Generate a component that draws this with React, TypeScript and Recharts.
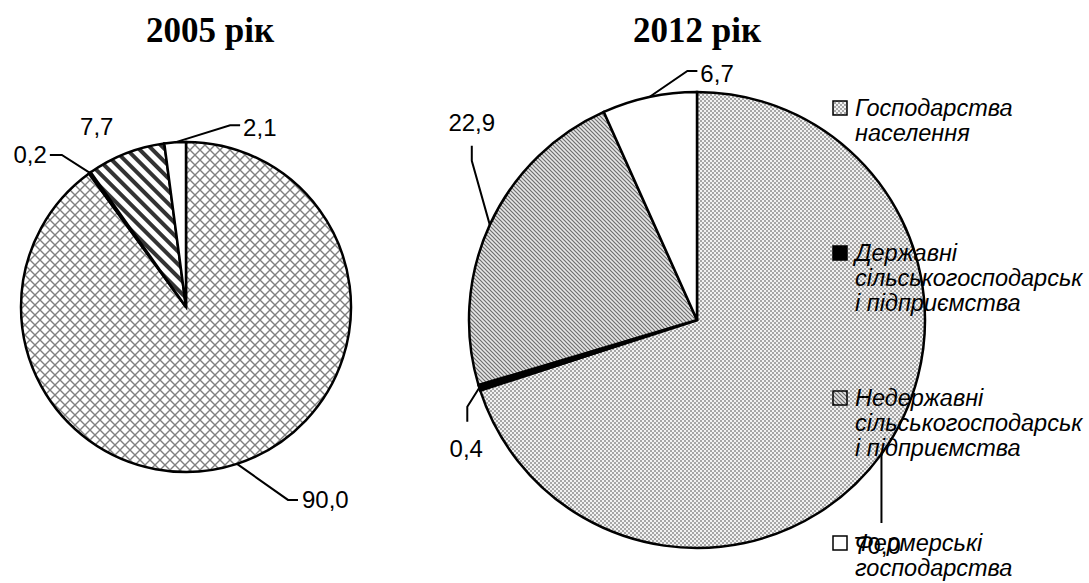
import { PieChart, Pie, Cell } from "recharts"

const categories = [
    "Господарства населення",
    "Державні сільськогосподарські підприємства",
    "Недержавні сільськогосподарські підприємства",
    "Фермерські господарства",
]

// how the legend wraps each category (as in the source)
const legendLines = [
    ["Господарства", "населення"],
    ["Державні", "сільськогосподарськ", "і підприємства"],
    ["Недержавні", "сільськогосподарськ", "і підприємства"],
    ["Фермерські", "господарства"],
]

const years = ["2005 рік", "2012 рік"]
const values2005 = [90.0, 0.2, 7.7, 2.1]
const values2012 = [70.0, 0.4, 22.9, 6.7]

const data2005 = categories.map((name, i) => ({ name, value: values2005[i] }))
const data2012 = categories.map((name, i) => ({ name, value: values2012[i] }))

const fills2005 = ["url(#cross)", "#000000", "url(#stripes)", "#ffffff"]
const fills2012 = ["url(#dots)", "#000000", "url(#fineDiag)", "#ffffff"]

// leader line layout relative to the point on the arc: elbow, end, text, anchor
type LabelLayout = { e?: [number, number]; f?: [number, number]; t: [number, number]; a: "start" | "middle" | "end" }

const layout2005: LabelLayout[] = [
    { e: [51, 36], f: [61, 36], t: [65, 36], a: "start" },
    { e: [-28, -18], f: [-40, -18], t: [-43, -18], a: "end" },
    { t: [-29, -27], a: "middle" },
    { e: [55, -17], f: [65, -17], t: [68, -15], a: "start" },
]

const layout2012: LabelLayout[] = [
    { e: [0, 69], f: [0, 69], t: [-4, 91], a: "middle" },
    { e: [-12, 19], f: [-12, 34], t: [-13, 61], a: "middle" },
    { e: [-18, -64], f: [-18, -79], t: [-18, -102], a: "middle" },
    { e: [38, -26], f: [48, -26], t: [51, -24], a: "start" },
]

const fmt = (v: number) => v.toFixed(1).replace(".", ",")

const makeLabel = (layout: LabelLayout[]) => (props: any) => {
    const { cx, cy, midAngle, outerRadius, index, value } = props
    const rad = Math.PI / 180
    const ax = cx + outerRadius * Math.cos(-midAngle * rad)
    const ay = cy + outerRadius * Math.sin(-midAngle * rad)
    const l = layout[index]
    const pts = l.e && l.f
        ? `${ax},${ay} ${ax + l.e[0]},${ay + l.e[1]} ${ax + l.f[0]},${ay + l.f[1]}`
        : null
    return (
        <g key={`lbl-${index}`}>
            {pts && <polyline points={pts} fill="none" stroke="#000" strokeWidth={2} />}
            <text
                x={ax + l.t[0]}
                y={ay + l.t[1]}
                textAnchor={l.a}
                dominantBaseline="central"
                fontFamily="'Liberation Sans', Arial, sans-serif"
                fontSize={24}
                fill="#000"
            >
                {fmt(value)}
            </text>
        </g>
    )
}

const legendSwatches = ["url(#dots)", "#000000", "url(#fineDiag)", "#ffffff"]

export default function App() {
    return (
        <div style={{ position: "absolute", left: 0, top: 0, width: 1089, height: 583, background: "#fff" }}>
            <PieChart width={1089} height={583} margin={{ top: 0, right: 0, bottom: 0, left: 0 }}>
                <defs>
                    <pattern id="cross" patternUnits="userSpaceOnUse" width="10" height="10">
                        <rect width="10" height="10" fill="#fff" />
                        <path d="M0,0 L10,10 M10,0 L0,10" stroke="#808080" strokeWidth="1.4" />
                    </pattern>
                    <pattern id="dots" patternUnits="userSpaceOnUse" width="4" height="4">
                        <rect width="4" height="4" fill="#f2f2f2" />
                        <rect x="0" y="0" width="2" height="2" fill="#a6a6a6" />
                        <rect x="2" y="2" width="2" height="2" fill="#a6a6a6" />
                    </pattern>
                    <pattern id="stripes" patternUnits="userSpaceOnUse" width="9" height="9" patternTransform="rotate(-45)">
                        <rect width="9" height="9" fill="#fff" />
                        <rect x="0" y="0" width="4" height="9" fill="#333333" />
                    </pattern>
                    <pattern id="fineDiag" patternUnits="userSpaceOnUse" width="4" height="4">
                        <rect width="4" height="4" fill="#e6e6e6" />
                        <path d="M-1,-1 L5,5 M-1,3 L1,5 M3,-1 L5,1" stroke="#6e6e6e" strokeWidth="1.2" />
                    </pattern>
                </defs>
                <Pie
                    data={data2005}
                    dataKey="value"
                    cx={186}
                    cy={307}
                    outerRadius={165}
                    startAngle={90}
                    endAngle={-270}
                    stroke="#000"
                    strokeWidth={2.5}
                    label={makeLabel(layout2005)}
                    labelLine={false}
                    isAnimationActive={false}
                >
                    {data2005.map((d, i) => (
                        <Cell key={d.name} fill={fills2005[i]} />
                    ))}
                </Pie>
                <Pie
                    data={data2012}
                    dataKey="value"
                    cx={697}
                    cy={320}
                    outerRadius={228}
                    startAngle={90}
                    endAngle={-270}
                    stroke="#000"
                    strokeWidth={2.5}
                    label={makeLabel(layout2012)}
                    labelLine={false}
                    isAnimationActive={false}
                >
                    {data2012.map((d, i) => (
                        <Cell key={d.name} fill={fills2012[i]} />
                    ))}
                </Pie>
            </PieChart>

            {years.map((y, i) => (
                <div
                    key={y}
                    style={{
                        position: "absolute",
                        left: (i === 0 ? 210 : 697) - 150,
                        top: 13,
                        width: 300,
                        textAlign: "center",
                        fontFamily: "'Liberation Serif', 'Times New Roman', serif",
                        fontWeight: "bold",
                        fontSize: 35,
                        lineHeight: "35px",
                        color: "#000",
                    }}
                >
                    {y}
                </div>
            ))}

            <div style={{ position: "absolute", left: 832, top: 96 }}>
                {legendLines.map((lines, i) => (
                    <div key={categories[i]} style={{ display: "flex", height: 145 }}>
                        <svg width={16} height={16} style={{ marginTop: 4, marginRight: 7, flex: "none" }}>
                            <rect x={1} y={1} width={14} height={14} fill={legendSwatches[i]} stroke="#000" strokeWidth={1.5} />
                        </svg>
                        <div
                            style={{
                                fontFamily: "'Liberation Sans', Arial, sans-serif",
                                fontStyle: "italic",
                                fontSize: 23.5,
                                lineHeight: "25px",
                                color: "#000",
                                whiteSpace: "nowrap",
                            }}
                        >
                            {lines.map((t) => (
                                <div key={t}>{t}</div>
                            ))}
                        </div>
                    </div>
                ))}
            </div>
        </div>
    )
}
